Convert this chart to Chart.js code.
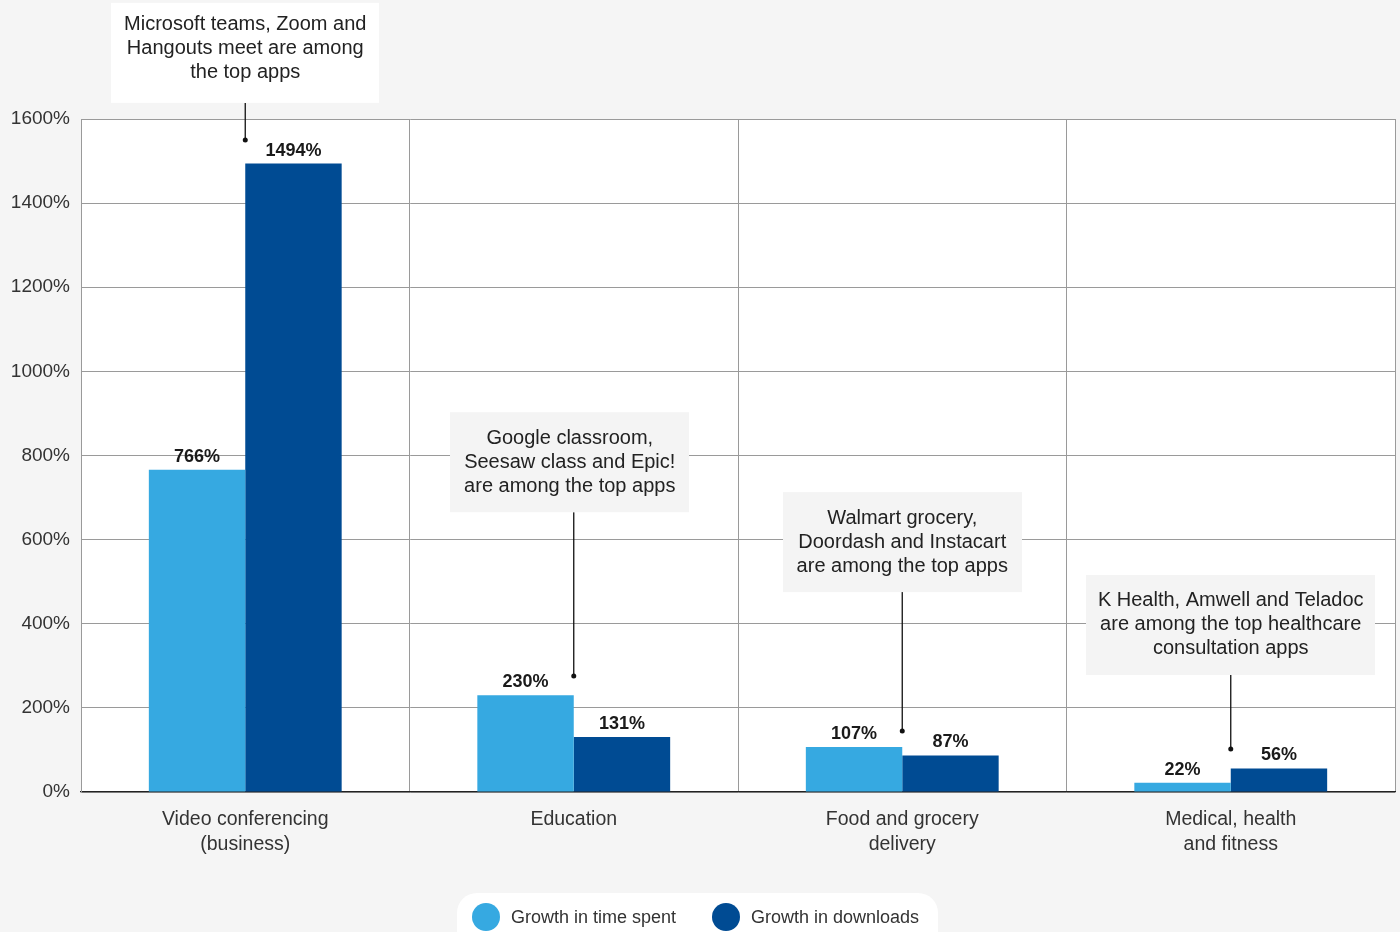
<!DOCTYPE html>
<html>
<head>
<meta charset="utf-8">
<script src="https://cdn.jsdelivr.net/npm/chart.js@4"></script>
<style>
  html, body { margin: 0; padding: 0; background: #f5f5f5; }
  #wrap { width: 1400px; height: 932px; position: relative; }
</style>
</head>
<body>
<div id="wrap"><canvas id="barChart" width="1400" height="932"></canvas></div>
<script>
// categories and series
const categories = [
    ['Video conferencing', '(business)'],
    'Education',
    ['Food and grocery', 'delivery'],
    ['Medical, health', 'and fitness']
];
const timeSpent = [766, 230, 107, 22];
const downloads = [1494, 131, 87, 56];
const yTicks = [0, 200, 400, 600, 800, 1000, 1200, 1400, 1600];

// callout notes, one per category
const noteText = [
    ['Microsoft teams, Zoom and', 'Hangouts meet are among', 'the top apps'],
    ['Google classroom,', 'Seesaw class and Epic!', 'are among the top apps'],
    ['Walmart grocery,', 'Doordash and Instacart', 'are among the top apps'],
    ['K Health, Amwell and Teladoc', 'are among the top healthcare', 'consultation apps']
];
const noteTop = [1876, 903, 713, 516];   // value where the box starts
const noteDot = [1550, 276, 145, 102];   // value where the pointer ends

const FONT = '"Liberation Sans", Arial, sans-serif';
const LIGHT = '#36a9e1';
const DARK = '#004b93';

/* value labels above bars */
const valueLabels = {
    id: 'valueLabels',
    afterDatasetsDraw(chart) {
        const ctx = chart.ctx;
        ctx.save();
        ctx.font = 'bold 18px ' + FONT;
        ctx.fillStyle = '#1a1a1a';
        ctx.textAlign = 'center';
        ctx.textBaseline = 'alphabetic';
        chart.data.datasets.forEach((ds, i) => {
            chart.getDatasetMeta(i).data.forEach((bar, j) => {
                ctx.fillText(ds.data[j] + '%', bar.x, bar.y - 8);
            });
        });
        ctx.restore();
    }
};

/* callout boxes with pointer lines */
const callouts = {
    id: 'callouts',
    afterDatasetsDraw(chart) {
        const ctx = chart.ctx;
        const xs = chart.scales.x, ys = chart.scales.y;
        const widths = [268, 239, 239, 289];
        const shift = [0, -4, 0, 0];
        ctx.save();
        noteText.forEach((lines, i) => {
            const cx = xs.getPixelForValue(i);
            const top = ys.getPixelForValue(noteTop[i]);
            const h = 100;
            const w = widths[i];
            const bx = cx + shift[i];
            const dotY = ys.getPixelForValue(noteDot[i]);
            const above = top < chart.chartArea.top;
            // pointer
            ctx.strokeStyle = '#111';
            ctx.lineWidth = 1.3;
            ctx.beginPath();
            ctx.moveTo(cx, top + h);
            ctx.lineTo(cx, dotY);
            ctx.stroke();
            ctx.fillStyle = '#111';
            ctx.beginPath();
            ctx.arc(cx, dotY, 2.5, 0, Math.PI * 2);
            ctx.fill();
            // box
            ctx.fillStyle = above ? '#ffffff' : '#f4f4f4';
            ctx.fillRect(Math.round(bx - w / 2), top, w, h);
            ctx.fillStyle = '#222';
            ctx.font = '20px ' + FONT;
            ctx.textAlign = 'center';
            ctx.textBaseline = 'middle';
            lines.forEach((t, k) => {
                ctx.fillText(t, bx, top + (above ? 22 : 26) + k * 24);
            });
        });
        ctx.restore();
    }
};

/* legend pill at the bottom */
const pillLegend = {
    id: 'pillLegend',
    afterDraw(chart) {
        const ctx = chart.ctx;
        ctx.save();
        ctx.fillStyle = '#ffffff';
        ctx.beginPath();
        ctx.roundRect(457, 893, 481, 60, 20);
        ctx.fill();
        const xs = [486, 726];
        ctx.font = '18px ' + FONT;
        ctx.textBaseline = 'middle';
        ctx.textAlign = 'left';
        chart.data.datasets.forEach((ds, i) => {
            ctx.fillStyle = ds.backgroundColor;
            ctx.beginPath();
            ctx.arc(xs[i], 917, 14, 0, Math.PI * 2);
            ctx.fill();
            ctx.fillStyle = '#333';
            ctx.fillText(ds.label, xs[i] + 25, 918);
        });
        ctx.restore();
    }
};

const whiteArea = {
    id: 'whiteArea',
    beforeDraw(chart) {
        const a = chart.chartArea, ctx = chart.ctx;
        ctx.save();
        ctx.fillStyle = '#ffffff';
        ctx.fillRect(a.left, a.top, a.right - a.left, a.bottom - a.top);
        ctx.restore();
    }
};

var ctx = document.getElementById('barChart').getContext('2d');
var chart = new Chart(ctx, {
    type: 'bar',
    data: {
        labels: categories,
        datasets: [{
            label: 'Growth in time spent',
            data: timeSpent,
            backgroundColor: LIGHT
        }, {
            label: 'Growth in downloads',
            data: downloads,
            backgroundColor: DARK
        }]
    },
    options: {
        responsive: false,
        animation: false,
        layout: { padding: { top: 119, right: 5, left: 0, bottom: 0 } },
        categoryPercentage: 0.587,
        barPercentage: 1,
        plugins: {
            legend: { display: false },
            tooltip: { enabled: false }
        },
        scales: {
            x: {
                grid: { offset: true, color: '#9a9a9a', lineWidth: 1, drawTicks: false },
                border: { color: '#222', width: 1.2 },
                ticks: {
                    color: '#333',
                    font: { family: FONT, size: 19.5, lineHeight: 1.24 },
                    padding: 16
                },
                afterFit(axis) { axis.height = 140; }
            },
            y: {
                min: 0,
                max: 1600,
                afterBuildTicks(axis) { axis.ticks = yTicks.map(v => ({ value: v })); },
                grid: { color: '#9a9a9a', lineWidth: 1, drawTicks: false },
                border: { color: '#9a9a9a' },
                ticks: {
                    color: '#333',
                    font: { family: FONT, size: 19 },
                    padding: 11,
                    callback: v => v + '%'
                },
                afterFit(axis) { axis.width = 81; }
            }
        }
    },
    plugins: [whiteArea, valueLabels, callouts, pillLegend]
});
</script>
</body>
</html>
